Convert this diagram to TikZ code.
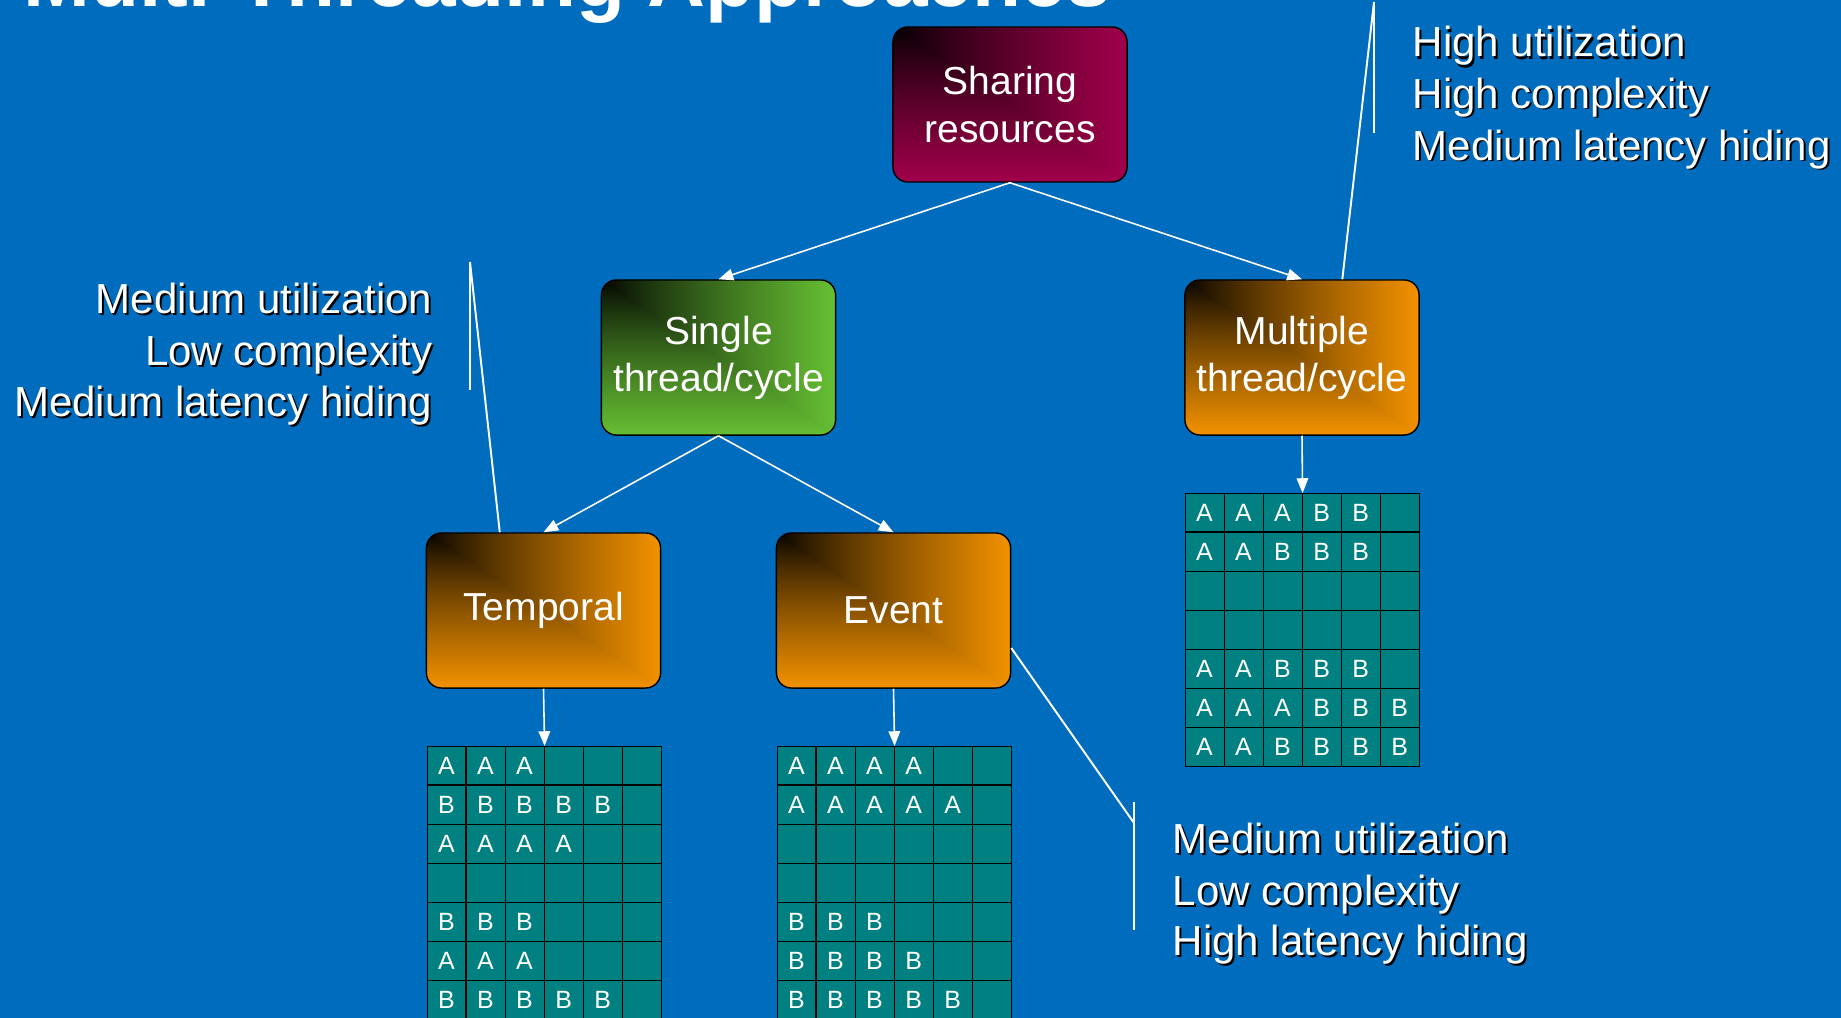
\documentclass[tikz,border=0pt]{standalone}
\usepackage{fontspec}
\setmainfont{Liberation Sans}
\usetikzlibrary{arrows.meta}
\definecolor{bgblue}{RGB}{0,108,190}
\definecolor{cellteal}{RGB}{0,128,128}
\pgfdeclarefunctionalshading{cornerred}{\pgfpoint{-50bp}{-50bp}}{\pgfpoint{50bp}{50bp}}{}{
  25 exch sub 50 div exch 25 add 50 div
  2 copy lt {exch} if pop
  dup 0 lt {pop 0} if dup 1 gt {pop 1} if 0.8 exp
  dup 0.63 mul exch dup 0.0 mul exch 0.29 mul
}
\pgfdeclarefunctionalshading{cornergreen}{\pgfpoint{-50bp}{-50bp}}{\pgfpoint{50bp}{50bp}}{}{
  25 exch sub 50 div exch 25 add 50 div
  2 copy lt {exch} if pop
  dup 0 lt {pop 0} if dup 1 gt {pop 1} if 0.8 exp
  dup 0.40 mul exch dup 0.75 mul exch 0.20 mul
}
\pgfdeclarefunctionalshading{cornerorange}{\pgfpoint{-50bp}{-50bp}}{\pgfpoint{50bp}{50bp}}{}{
  25 exch sub 50 div exch 25 add 50 div
  2 copy lt {exch} if pop
  dup 0 lt {pop 0} if dup 1 gt {pop 1} if 0.8 exp
  dup 0.95 mul exch dup 0.57 mul exch 0.0 mul
}
\tikzset{
  box/.style={rounded corners=0.15cm, draw=black, line width=0.4pt, shade,
    minimum width=2.34cm, minimum height=1.55cm, inner sep=0pt,
    text=white, align=center, font=\fontsize{11.1}{13.4}\selectfont},
  conn/.style={white, line width=0.45pt, -{Triangle[length=4.2pt,width=3.3pt]}},
  callout/.style={white, line width=0.55pt},
  gridbox/.style={fill=cellteal, draw=black, line width=0.3pt, inner sep=0pt,
    minimum width=2.34cm, minimum height=2.73cm, anchor=north west},
  cellline/.style={black, line width=0.3pt},
  cellchar/.style={text=white, inner sep=0pt, font=\fontsize{7.1}{8}\selectfont},
  ann/.style={text=white, inner sep=0pt, font=\fontsize{11.95}{14.65}\selectfont},
  annsh/.style={text=black, inner sep=0pt, font=\fontsize{11.95}{14.65}\selectfont},
}
\begin{document}
\begin{tikzpicture}[x=0.01cm, y=-0.01cm]
\useasboundingbox (0,0) rectangle (1841,1018);
\fill[bgblue] (0,0) rectangle (1841,1018);

% title (cut off by the page edge, as in the reference)
\node[anchor=base west, inner sep=0pt, text=white, font=\bfseries\fontsize{22.8}{27}\selectfont] (title) at (23,6) {Multi-Threading Approaches};

% boxes
\node[box, shading=cornerred] (share) at (1010,104.5) {Sharing\\resources};
\node[box, shading=cornergreen] (single) at (718.5,357.5) {Single\\thread/cycle};
\node[box, shading=cornerorange] (multi) at (1302,357.5) {Multiple\\thread/cycle};
\node[box, shading=cornerorange] (temporal) at (543.5,610.5) {Temporal};
\node[box, shading=cornerorange] (event) at (893.5,610.5) {Event};

% grids
\node[gridbox] (tgrid) at (427,746) {};
\node[gridbox] (egrid) at (777,746) {};
\node[gridbox] (mgrid) at (1185,493) {};
\foreach \g in {tgrid,egrid,mgrid}{
  \foreach \i in {1,...,5}
    \draw[cellline] ([xshift=\i*0.39cm]\g.north west) -- ([xshift=\i*0.39cm]\g.south west);
  \foreach \j in {1,...,6}
    \draw[cellline] ([yshift=-\j*0.39cm]\g.north west) -- ([yshift=-\j*0.39cm]\g.north east);
}
\foreach \r/\row in {1/{A,A,A},2/{B,B,B,B,B},3/{A,A,A,A},5/{B,B,B},6/{A,A,A},7/{B,B,B,B,B}}{
  \foreach \ch [count=\i] in \row
    \node[cellchar] (t\r\i) at ([xshift={(\i-0.5)*0.39cm}, yshift={-(\r-0.5)*0.39cm}]tgrid.north west) {\ch};
}
\foreach \r/\row in {1/{A,A,A,A},2/{A,A,A,A,A},5/{B,B,B},6/{B,B,B,B},7/{B,B,B,B,B}}{
  \foreach \ch [count=\i] in \row
    \node[cellchar] (e\r\i) at ([xshift={(\i-0.5)*0.39cm}, yshift={-(\r-0.5)*0.39cm}]egrid.north west) {\ch};
}
\foreach \r/\row in {1/{A,A,A,B,B},2/{A,A,B,B,B},5/{A,A,B,B,B},6/{A,A,A,B,B,B},7/{A,A,B,B,B,B}}{
  \foreach \ch [count=\i] in \row
    \node[cellchar] (m\r\i) at ([xshift={(\i-0.5)*0.39cm}, yshift={-(\r-0.5)*0.39cm}]mgrid.north west) {\ch};
}

% connectors
\draw[conn] (share.south) -- (single.north);
\draw[conn] (share.south) -- (multi.north);
\draw[conn] (single.south) -- (temporal.north);
\draw[conn] (single.south) -- (event.north);
\draw[conn] (multi.south) -- (mgrid.north);
\draw[conn] (temporal.south) -- (tgrid.north);
\draw[conn] (event.south) -- (egrid.north);

% callouts
\coordinate (lt) at (470,262);
\coordinate (lb) at (470,390);
\draw[callout] (lt) -- (lb);
\draw[callout] (lt) -- ([xshift=0.74cm]temporal.north west);
\coordinate (rt) at (1374,2);
\coordinate (rb) at (1374,133);
\draw[callout] (rt) -- (rb);
\draw[callout] (rt) -- ([xshift=1.58cm]multi.north west);
\coordinate (bt) at (1134,802);
\coordinate (bb) at (1134,930);
\coordinate (bm) at (1134,823);
\draw[callout] (bt) -- (bb);
\draw[callout] ([yshift=-0.375cm]event.east) -- (bm);

% annotation texts
\foreach \n/\y/\t in {1/313/Medium utilization,2/365/Low complexity,3/416/Medium latency hiding}{
  \node[annsh, anchor=base east] (ls\n) at (435,\y+2) {\t};
  \node[ann, anchor=base east] (l\n) at (433,\y) {\t};
}
\foreach \n/\y/\t in {1/57/High utilization,2/108/High complexity,3/160/Medium latency hiding}{
  \node[annsh, anchor=base west] (rs\n) at (1414,\y+2) {\t};
  \node[ann, anchor=base west] (r\n) at (1412,\y) {\t};
}
\foreach \n/\y/\t in {1/853/Medium utilization,2/905/Low complexity,3/955/High latency hiding}{
  \node[annsh, anchor=base west] (bs\n) at (1174,\y+2) {\t};
  \node[ann, anchor=base west] (b\n) at (1172,\y) {\t};
}
\end{tikzpicture}
\end{document}
